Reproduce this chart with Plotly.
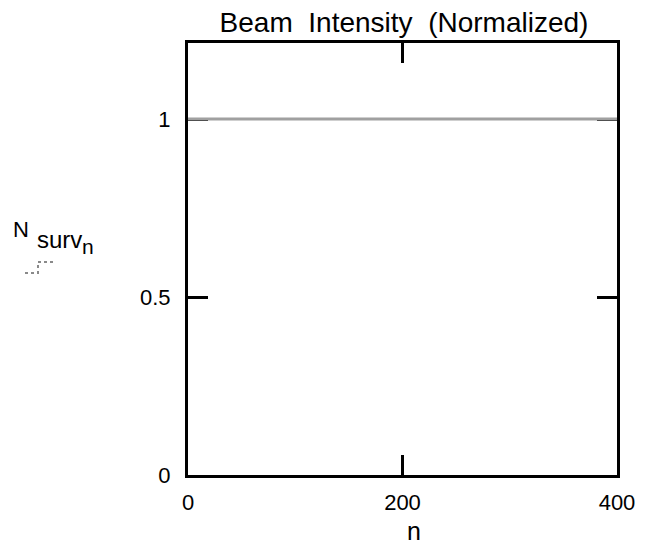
import plotly.graph_objects as go

# Data
n_values = [0, 50, 100, 150, 200, 250, 300, 350, 400]
n_surv = [1.0, 1.0, 1.0, 1.0, 1.0, 1.0, 1.0, 1.0, 1.0]
x_ticks = [0, 200, 400]
x_ticklabels = ["0", "200", "400"]
y_ticks = [0, 0.5, 1]
y_ticklabels = ["0", "0.5", "1"]

W, H = 656, 548
L, R, T, B = 188, 617, 43, 475
FONT = "Liberation Sans, Arial, Helvetica, sans-serif"


def px(x):
    return (x - L) / (R - L)


def py(y):
    return (B - y) / (B - T)


fig = go.Figure()
fig.add_trace(go.Scatter(
    x=n_values, y=n_surv, mode="lines",
    line=dict(color="#a0a0a0", width=3),
    showlegend=False, hoverinfo="skip",
))

axis_common = dict(
    showline=True, linecolor="black", linewidth=3, mirror="ticks",
    ticks="inside", ticklen=20, tickwidth=3, tickcolor="black",
    showgrid=False, zeroline=False, layer="below traces", automargin=False,
    tickfont=dict(family=FONT, size=22, color="black"),
)

fig.update_layout(
    width=W, height=H,
    margin=dict(l=L, r=W - R, t=T, b=H - B),
    paper_bgcolor="white", plot_bgcolor="white",
    title=dict(text="Beam  Intensity  (Normalized)", x=404 / W, xanchor="center",
               y=1 - 22 / H, yanchor="middle", automargin=False,
               font=dict(family=FONT, size=28, color="black")),
    xaxis=dict(range=[0, 400], tickvals=x_ticks, ticktext=x_ticklabels,
               ticklabelstandoff=6, **axis_common),
    yaxis=dict(range=[0, 1.2135], tickvals=y_ticks, ticktext=y_ticklabels,
               ticklabelstandoff=10, **axis_common),
)

# X-axis title
fig.add_annotation(text="n", xref="paper", yref="paper", x=px(414), y=py(531),
                   xanchor="center", yanchor="middle", showarrow=False,
                   font=dict(family=FONT, size=25, color="black"))

# Y-axis label (horizontal, with nested subscripts)
fig.add_annotation(text="N", xref="paper", yref="paper", x=px(11), y=py(229),
                   xanchor="left", yanchor="middle", showarrow=False,
                   font=dict(family=FONT, size=22, color="black"))
fig.add_annotation(text="surv", xref="paper", yref="paper", x=px(35), y=py(239),
                   xanchor="left", yanchor="middle", showarrow=False,
                   font=dict(family=FONT, size=24, color="black"))
fig.add_annotation(text="n", xref="paper", yref="paper", x=px(80), y=py(246),
                   xanchor="left", yanchor="middle", showarrow=False,
                   font=dict(family=FONT, size=21, color="black"))

# Legend-like step glyph
path = "M {} {} L {} {} L {} {} L {} {}".format(
    px(25), py(273), px(38), py(273), px(38), py(262), px(53), py(262))
fig.add_shape(type="path", path=path, xref="paper", yref="paper",
              line=dict(color="#8a8a8a", width=2, dash="dot"))

fig.write_html("out.html", config={"displayModeBar": False},
               post_script="document.body.style.margin='0';document.body.style.overflow='hidden';")
